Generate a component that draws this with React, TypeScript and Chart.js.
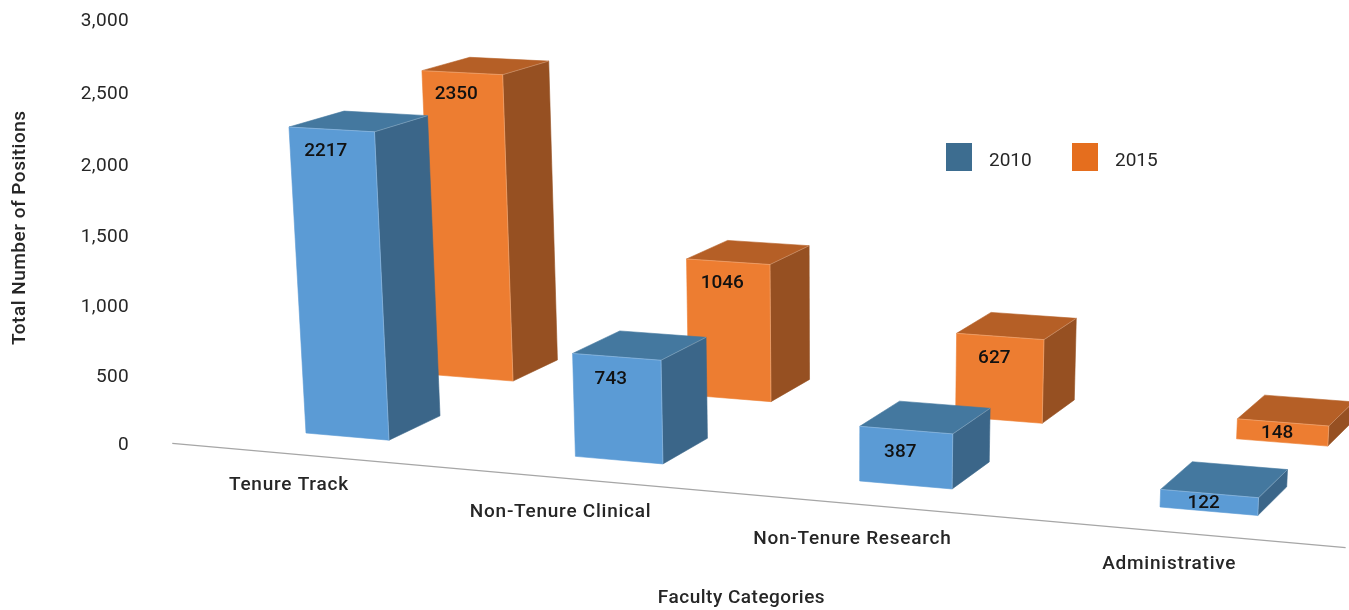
import React, { useEffect, useRef } from "react";
import { Chart, registerables, LinearScale } from "chart.js";

const categories = ["Tenure Track", "Non-Tenure Clinical", "Non-Tenure Research", "Administrative"];
const seriesLabels = ["2010", "2015"];
const values2010 = [2217, 743, 387, 122];
const values2015 = [2350, 1046, 627, 148];
const valueMin = 0;
const valueMax = 3000;
const valueStep = 500;
const xTitle = "Faculty Categories";
const yTitle = "Total Number of Positions";

const FONT = "Roboto, sans-serif";
const INK = "#262626";
const faceColors2010 = { front: "#5b9bd5", side: "#3b6689", top: "#44789f" };
const faceColors2015 = { front: "#ed7d31", side: "#965022", top: "#b55f26" };
const legendColors = ["#3d6d90", "#e56e1e"];

// Camera fitted to the reference: floor position (s along the axis, d in depth), value upward.
const CAM = { ox: 306, oy: 433, sx: 254.4, sy: 11.43, dx: 63.2, dy: -12.24, vx: -11.72, vy: -139.8, ws: -0.0261, wd: 0.0286, wv: -0.01398 };
const BAR_WIDTH = 0.3137; // share of one category
const BAR_DEPTH = 1;
const SERIES_DEPTH = 2.535;
const FLOOR = { d: -0.74, sStart: -0.35, sEnd: 3.654 };

function project(s: number, d: number, value: number) {
  const v = value / 1000;
  const w = 1 + CAM.ws * s + CAM.wd * d + CAM.wv * v;
  return {
    x: (CAM.ox + CAM.sx * s + CAM.dx * d + CAM.vx * v) / w,
    y: (CAM.oy + CAM.sy * s + CAM.dy * d + CAM.vy * v) / w,
  };
}

// A value axis whose ticks follow the vertical edge at the near-left corner of the floor.
class PerspectiveScale extends LinearScale {
  static id = "perspective";
  static defaults = LinearScale.defaults;
  getPixelForValue(value: number) {
    return project(FLOOR.sStart, FLOOR.d, value).y;
  }
}

type P = { x: number; y: number };
function face(ctx: CanvasRenderingContext2D, pts: P[], fill: string) {
  ctx.beginPath();
  pts.forEach((p, i) => (i ? ctx.lineTo(p.x, p.y) : ctx.moveTo(p.x, p.y)));
  ctx.closePath();
  ctx.fillStyle = fill;
  ctx.fill();
  ctx.strokeStyle = fill;
  ctx.lineWidth = 0.6;
  ctx.stroke();
}

function edge(ctx: CanvasRenderingContext2D, a: P, b: P) {
  ctx.beginPath();
  ctx.moveTo(a.x, a.y);
  ctx.lineTo(b.x, b.y);
  ctx.strokeStyle = "rgba(255,255,255,0.28)";
  ctx.lineWidth = 0.8;
  ctx.stroke();
}

const bars3d = {
  id: "bars3d",
  beforeDatasetsDraw(chart: any) {
    const ctx = chart.ctx;
    const a = project(FLOOR.sStart, FLOOR.d, 0);
    const b = project(FLOOR.sEnd, FLOOR.d, 0);
    ctx.save();
    ctx.beginPath();
    ctx.moveTo(a.x, a.y);
    ctx.lineTo(b.x, b.y);
    ctx.strokeStyle = "#a6a6a6";
    ctx.lineWidth = 1.4;
    ctx.stroke();

    ctx.font = `500 19px ${FONT}`;
    ctx.letterSpacing = "0.75px";
    ctx.fillStyle = INK;
    ctx.textAlign = "center";
    ctx.textBaseline = "middle";
    chart.data.labels.forEach((label: string, i: number) => {
      const anchor = project(i + BAR_WIDTH / 2, FLOOR.d, 0);
      const w = ctx.measureText(label).width;
      ctx.fillText(label, anchor.x - 6 - 0.1 * w + 1.2 * i, anchor.y + 23.7 + 0.05 * w);
    });
    ctx.restore();
  },
  beforeDatasetDraw(chart: any, args: any) {
    const ctx = chart.ctx;
    const xs = chart.scales.x;
    const x0 = xs.getPixelForValue(0);
    const step = xs.getPixelForValue(1) - x0;
    const ds = chart.data.datasets[args.index];
    const d0 = args.index * SERIES_DEPTH;
    const d1 = d0 + BAR_DEPTH;
    ctx.save();
    args.meta.data.forEach((el: any, i: number) => {
      const value = ds.data[i];
      const s0 = (el.x - x0) / step;
      const s1 = s0 + el.width / step;
      const fl = project(s0, d0, 0);
      const fr = project(s1, d0, 0);
      const br = project(s1, d1, 0);
      const tfl = project(s0, d0, value);
      const tfr = project(s1, d0, value);
      const tbr = project(s1, d1, value);
      const tbl = project(s0, d1, value);
      face(ctx, [fr, br, tbr, tfr], ds.sideColor);
      face(ctx, [tfl, tfr, tbr, tbl], ds.topColor);
      face(ctx, [fl, fr, tfr, tfl], ds.backgroundColor);
      edge(ctx, tfl, tfr);
      edge(ctx, tfr, tbr);
      edge(ctx, tfr, fr);

      const topMid = { x: (tfl.x + tfr.x) / 2, y: (tfl.y + tfr.y) / 2 };
      const h = (fl.y + fr.y) / 2 - topMid.y;
      ctx.font = `500 19px ${FONT}`;
      ctx.letterSpacing = "0px";
      ctx.fillStyle = "#111111";
      ctx.textAlign = "center";
      ctx.textBaseline = "middle";
      ctx.fillText(String(value), topMid.x - 6, topMid.y + Math.min(22, h / 2 + 0.5));
    });
    ctx.restore();
    return false;
  },
  afterDatasetsDraw(chart: any) {
    const ctx = chart.ctx;
    const origins = [946, 1072];
    ctx.save();
    ctx.font = `400 19px ${FONT}`;
    ctx.letterSpacing = "0px";
    ctx.textAlign = "left";
    ctx.textBaseline = "middle";
    chart.data.datasets.forEach((ds: any, i: number) => {
      ctx.fillStyle = legendColors[i];
      ctx.fillRect(origins[i], 143, 26, 28);
      ctx.fillStyle = INK;
      ctx.fillText(ds.label, origins[i] + 43, 161);
    });
    ctx.restore();
  },
};

// Shifts one of a scale's own drawing steps, and sets its letter spacing.
function nudge(scale: any, method: string, dx: number, dy: number, spacing: string) {
  const original = scale[method];
  scale[method] = function (...rest: any[]) {
    const ctx = this.ctx;
    ctx.save();
    ctx.translate(dx, dy);
    ctx.letterSpacing = spacing;
    original.apply(this, rest);
    ctx.restore();
  };
}

export default function App() {
  const ref = useRef<HTMLCanvasElement>(null);
  useEffect(() => {
    Chart.register(...registerables, PerspectiveScale as any);
    const chart = new Chart(ref.current!, {
      type: "bar",
      data: {
        labels: categories,
        datasets: [
          { label: seriesLabels[0], data: values2010, backgroundColor: faceColors2010.front, sideColor: faceColors2010.side, topColor: faceColors2010.top } as any,
          { label: seriesLabels[1], data: values2015, backgroundColor: faceColors2015.front, sideColor: faceColors2015.side, topColor: faceColors2015.top } as any,
        ],
      },
      options: {
        animation: false,
        responsive: false,
        grouped: false,
        barPercentage: BAR_WIDTH,
        categoryPercentage: 1,
        layout: { padding: { top: 20, right: 40, left: 0, bottom: 0 } },
        plugins: { legend: { display: false }, tooltip: { enabled: false } },
        scales: {
          x: {
            grid: { display: false },
            border: { display: false },
            ticks: { display: false },
            afterFit: (s: any) => { s.height = 166; },
            title: { display: true, text: xTitle, color: INK, font: { family: FONT, size: 19, weight: "500" }, padding: { top: 0, bottom: 2 } },
          },
          y: {
            type: "perspective",
            min: valueMin,
            max: valueMax,
            grid: { display: false },
            border: { display: false },
            ticks: {
              stepSize: valueStep,
              padding: 44,
              color: INK,
              font: { family: FONT, size: 19 },
              callback: (v: any) => Number(v).toLocaleString("en-US"),
            },
            afterFit: (s: any) => { s.width = 173; },
            title: { display: true, text: yTitle, color: INK, font: { family: FONT, size: 19, weight: "500" }, padding: { top: 7, bottom: 0 } },
          },
        },
      } as any,
      plugins: [
        bars3d,
        {
          id: "scaleNudges",
          afterLayout(c: any) {
            if (!c.$nudged) {
              nudge(c.scales.y, "drawTitle", 2, -22, "0.5px");
              nudge(c.scales.y, "drawLabels", 8, 1.5, "0.35px");
              nudge(c.scales.x, "drawTitle", 0.5, 2, "0.5px");
              c.$nudged = true;
            }
          },
        },
      ] as any,
    });
    return () => chart.destroy();
  }, []);
  return (
    <div style={{ position: "fixed", left: 0, top: 0, width: 1349, height: 610, background: "#ffffff" }}>
      <canvas ref={ref} width={1349} height={610} style={{ display: "block" }} />
    </div>
  );
}
